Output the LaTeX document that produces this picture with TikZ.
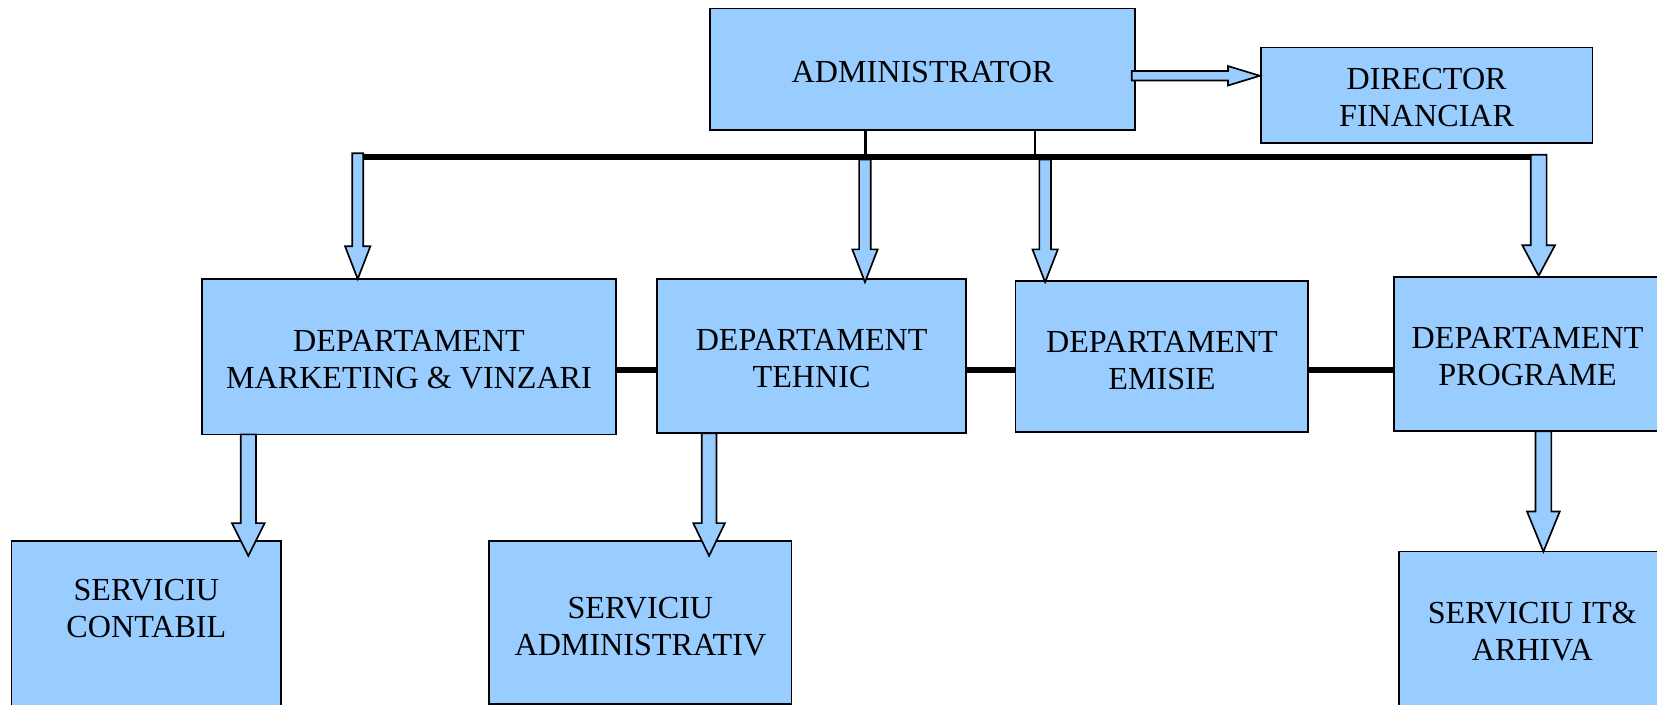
\documentclass[tikz,border=0pt]{standalone}
\usepackage{fontspec}
\setmainfont{Liberation Serif}
\definecolor{boxblue}{HTML}{99CCFF}
\tikzset{
  orgbox/.style={draw=black, line width=0.9pt, fill=boxblue, inner sep=0pt},
  orgtext/.style={align=center, inner sep=0pt, font=\fontsize{17.3}{20}\selectfont},
  barline/.style={line width=3.2pt, black},
  thinline/.style={line width=1.1pt, black},
  blockarrow/.style={draw=black, line width=0.9pt, fill=boxblue, line join=miter}
}
% box: name, x1, y1, x2, y2
\newcommand{\orgnode}[5]{%
  \node[orgbox, minimum width={(#4-#2)*0.02cm}, minimum height={(#5-#3)*0.02cm}]
    (#1) at ({(#2+#4)/2},{(#3+#5)/2}) {};}
% down block arrow: cx, ytop, yheadbase, ytip, shaft half, head half
\newcommand{\downarrowblk}[6]{%
  \draw[blockarrow] ({#1-#5},#2) -- ({#1+#5},#2) -- ({#1+#5},#3) -- ({#1+#6},#3)
    -- (#1,#4) -- ({#1-#6},#3) -- ({#1-#5},#3) -- cycle;}
\begin{document}
\begin{tikzpicture}[x=0.02cm, y=-0.02cm]
\useasboundingbox (0,0) rectangle (1568,667);
% boxes
\orgnode{admin}{672}{8}{1074}{123}
\orgnode{df}{1193}{45}{1507}{135}
\orgnode{mkt}{191}{264}{583}{411}
\orgnode{teh}{622}{264}{914}{410}
\orgnode{emi}{961}{266}{1238}{409}
\orgnode{prog}{1319}{262}{1572}{408}
\orgnode{cont}{11}{512}{266}{715}
\orgnode{sadm}{463}{512}{749}{666}
\orgnode{it}{1324}{522}{1578}{680}
% texts
\node[orgtext] (admintext) at (873,68) {ADMINISTRATOR};
\node[orgtext] (dftext) at (1350,92) {DIRECTOR\\FINANCIAR};
\node[orgtext] (mkttext) at (387,340.5) {DEPARTAMENT\\MARKETING \& VINZARI};
\node[orgtext] (tehtext) at (768,339.5) {DEPARTAMENT\\TEHNIC};
\node[orgtext] (emitext) at (1099.5,341) {DEPARTAMENT\\EMISIE};
\node[orgtext] (progtext) at (1445.5,337.5) {DEPARTAMENT\\PROGRAME};
\node[orgtext] (conttext) at (138.5,576) {SERVICIU\\CONTABIL};
\node[orgtext] (sadmtext) at (606,593) {SERVICIU\\ADMINISTRATIV};
\node[orgtext] (ittext) at (1450,598) {SERVICIU IT\&\\ARHIVA};
% junction points
\coordinate (j1) at (819,148.5);
\coordinate (j2) at (979,148.5);
\coordinate (barL) at (340,148.5);
\coordinate (barR) at (1464,148.5);
\coordinate (hl) at (0,350);
% admin to bar
\draw[thinline] (admin.south -| j1) -- (j1);
\draw[thinline] (admin.south -| j2) -- (j2);
\draw[barline] (barL) -- (barR);
% department links
\draw[barline] (mkt.east |- hl) -- (teh.west |- hl);
\draw[barline] (teh.east |- hl) -- (emi.west |- hl);
\draw[barline] (emi.east |- hl) -- (prog.west |- hl);
% arrow admin -> director financiar
\draw[blockarrow] (1071,67.2) -- (1162,67.2) -- (1162,62.5) -- (df.west |- 0,71.7)
  -- (1162,80.9) -- (1162,76.2) -- (1071,76.2) -- cycle;
% down arrows from bar
\downarrowblk{338.5}{145}{233}{264}{5.2}{12}
\downarrowblk{818.5}{151}{236}{267}{5.5}{12}
\downarrowblk{989}{151}{236}{267}{5.5}{12}
\downarrowblk{1456}{146.5}{232}{261}{7.5}{15.5}
% down arrows to services
\downarrowblk{235}{411}{495}{526}{7.2}{15.5}
\downarrowblk{671}{410}{495}{526}{7}{15}
\downarrowblk{1460.5}{408}{484}{522}{7.5}{15.5}
\end{tikzpicture}
\end{document}
